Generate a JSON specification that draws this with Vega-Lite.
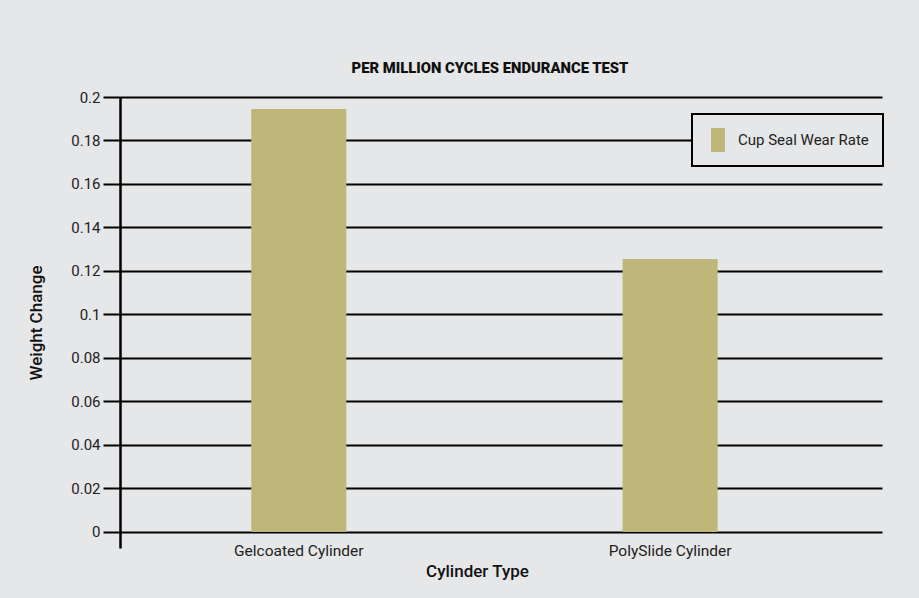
{
  "$schema": "https://vega.github.io/schema/vega-lite/v6.json",
  "width": 762,
  "height": 451,
  "autosize": "none",
  "padding": {"left": 120, "top": 97, "right": 37, "bottom": 50},
  "background": "#e6e7e8",
  "title": {
    "text": "PER MILLION CYCLES ENDURANCE TEST",
    "font": "Roboto",
    "fontSize": 14.8,
    "fontWeight": 900,
    "color": "#111111",
    "anchor": "middle",
    "frame": "group",
    "dx": -11,
    "offset": 14
  },
  "data": {
    "values": [
      {"cylinder": "Gelcoated Cylinder", "weight": 0.1945, "series": "Cup Seal Wear Rate"},
      {"cylinder": "PolySlide Cylinder", "weight": 0.1255, "series": "Cup Seal Wear Rate"}
    ]
  },
  "mark": {"type": "bar"},
  "encoding": {
    "x": {
      "field": "cylinder",
      "type": "nominal",
      "sort": null,
      "title": "Cylinder Type",
      "scale": {"paddingInner": 0.744, "paddingOuter": 0.398, "align": 0.444},
      "axis": {
        "labelAngle": 0,
        "ticks": false,
        "domain": false,
        "grid": false,
        "labelPadding": -5,
        "labelFontSize": 15.5,
        "labelColor": "#222222",
        "labelFont": "Roboto",
        "titleFont": "Roboto",
        "titleFontSize": 17,
        "titleFontWeight": 500,
        "titleColor": "#111111",
        "titleX": 357,
        "titleAlign": "center",
        "titlePadding": 5
      }
    },
    "y": {
      "field": "weight",
      "type": "quantitative",
      "title": "Weight Change",
      "scale": {"domain": [-0.00736, 0.2], "nice": false, "zero": false},
      "axis": {
        "values": [0, 0.02, 0.04, 0.06, 0.08, 0.1, 0.12, 0.14, 0.16, 0.18, 0.2],
        "format": "~g",
        "grid": true,
        "gridColor": "#000000",
        "gridWidth": 2,
        "gridOpacity": 1,
        "domainColor": "#000000",
        "domainWidth": 2.5,
        "tickColor": "#000000",
        "tickWidth": 2,
        "tickSize": 17,
        "labelPadding": 3,
        "labelFontSize": 15,
        "labelColor": "#222222",
        "labelFont": "Roboto",
        "titleFont": "Roboto",
        "titleFontSize": 17,
        "titleFontWeight": 500,
        "titleColor": "#111111",
        "titlePadding": 25
      }
    },
    "color": {
      "field": "series",
      "type": "nominal",
      "scale": {"range": ["#bfb77a"]},
      "legend": {
        "title": null,
        "orient": "none",
        "legendX": 572,
        "legendY": 17,
        "strokeColor": "#000000",
        "fillColor": "#e6e7e8",
        "padding": 14,
        "symbolType": "M-0.58,-1H0.58V1H-0.58Z",
        "symbolSize": 576,
        "symbolStrokeWidth": 0,
        "labelFont": "Roboto",
        "labelFontSize": 15,
        "labelColor": "#222222",
        "labelOffset": 8
      }
    }
  },
  "config": {
    "view": {"stroke": null},
    "legend": {"strokeWidth": 2}
  }
}
